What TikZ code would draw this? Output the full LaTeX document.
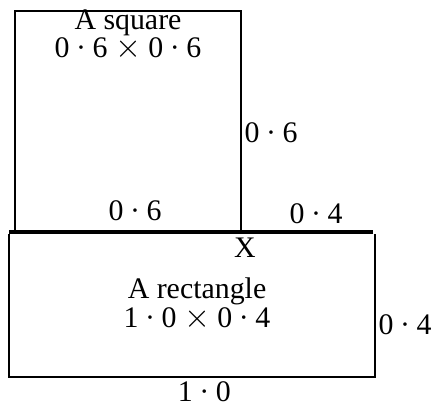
\documentclass[tikz,border=0pt]{standalone}
\usepackage{fontspec}
\usepackage{graphicx}
\setmainfont{Liberation Serif}
\usetikzlibrary{positioning}

\newcommand{\dotnum}[2]{#1\hspace{0.22em}·\hspace{0.22em}#2}
\newcommand{\bytimes}{\scalebox{1.1}{$\times$}}

\begin{document}
\begin{tikzpicture}[
      x=0.02cm, y=-0.02cm,
      mylabel/.style={
         inner sep=0pt,
         align=center,
         font=\fontsize{17}{16}\selectfont},
      myedge/.style={line width=0.6pt},
      mybase/.style={line width=2.6pt}
      ]
      \useasboundingbox (0,0) rectangle (432,407);
      % corners of the square and the rectangle
      \coordinate (sqa) at (15,11);
      \coordinate (sqb) at (241,232);
      \coordinate (rea) at (9,234);
      \coordinate (reb) at (375,377);
      \coordinate (lna) at (9,232);
      \coordinate (lnb) at (373,232);

      \draw[myedge] (sqb) |- (sqa) -- (sqa |- sqb);
      \draw[myedge] (rea) -- (rea |- reb) -| (reb) -- (reb |- rea);
      \draw[mybase] (lna) -- (lnb);

    \foreach \n/\x/\y/\txt in {% name/x/y/text
      sqname/128/35/{A square\\\dotnum{0}{6} \bytimes{} \dotnum{0}{6}},
      sqright/271/133/\dotnum{0}{6},
      sqbottom/135/211/\dotnum{0}{6},
      xlen/316/214/\dotnum{0}{4},
      xmark/245/248/X,
      rename/197/304/{A rectangle\\\dotnum{1}{0} \bytimes{} \dotnum{0}{4}},
      reright/405/325/\dotnum{0}{4},
      rebottom/208/392/\dotnum{1}{0}
      }
       \node[mylabel] (\n) at (\x,\y) {\txt};

    \end{tikzpicture}
\end{document}
